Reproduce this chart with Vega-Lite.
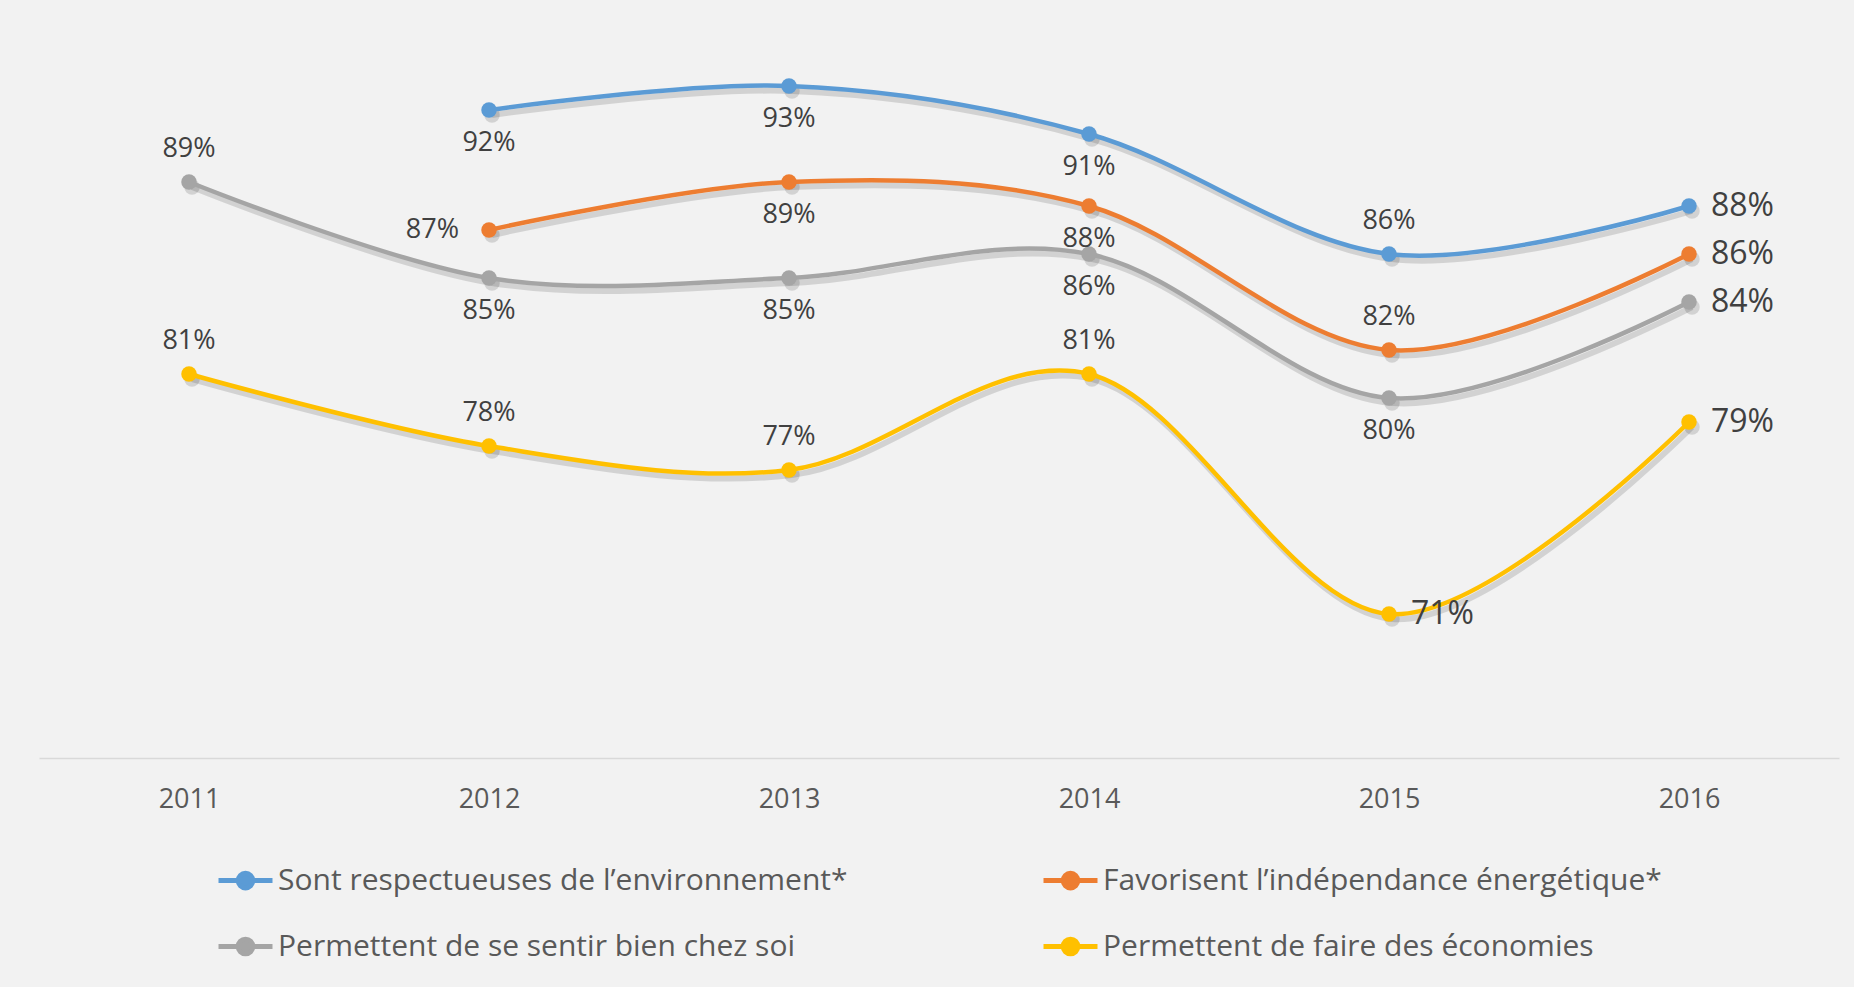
{
  "$schema": "https://vega.github.io/schema/vega-lite/v6.json",
  "autosize": "none",
  "width": 1800,
  "height": 744,
  "padding": {"left": 39, "top": 14, "right": 15, "bottom": 229},
  "background": "#f2f2f2",
  "config": {
    "view": {"stroke": null},
    "font": "Open Sans",
    "axis": {"labelFont": "Open Sans"},
    "legend": {"labelFont": "Open Sans"}
  },
  "data": {
    "values": [
      {"k": "env", "serie": "Sont respectueuses de l’environnement*", "year": "2012", "value": 0.92},
      {"k": "env", "serie": "Sont respectueuses de l’environnement*", "year": "2013", "value": 0.93},
      {"k": "env", "serie": "Sont respectueuses de l’environnement*", "year": "2014", "value": 0.91},
      {"k": "env", "serie": "Sont respectueuses de l’environnement*", "year": "2015", "value": 0.86},
      {"k": "env", "serie": "Sont respectueuses de l’environnement*", "year": "2016", "value": 0.88},
      {"k": "ind", "serie": "Favorisent l’indépendance énergétique*", "year": "2012", "value": 0.87},
      {"k": "ind", "serie": "Favorisent l’indépendance énergétique*", "year": "2013", "value": 0.89},
      {"k": "ind", "serie": "Favorisent l’indépendance énergétique*", "year": "2014", "value": 0.88},
      {"k": "ind", "serie": "Favorisent l’indépendance énergétique*", "year": "2015", "value": 0.82},
      {"k": "ind", "serie": "Favorisent l’indépendance énergétique*", "year": "2016", "value": 0.86},
      {"k": "bien", "serie": "Permettent de se sentir bien chez soi", "year": "2011", "value": 0.89},
      {"k": "bien", "serie": "Permettent de se sentir bien chez soi", "year": "2012", "value": 0.85},
      {"k": "bien", "serie": "Permettent de se sentir bien chez soi", "year": "2013", "value": 0.85},
      {"k": "bien", "serie": "Permettent de se sentir bien chez soi", "year": "2014", "value": 0.86},
      {"k": "bien", "serie": "Permettent de se sentir bien chez soi", "year": "2015", "value": 0.80},
      {"k": "bien", "serie": "Permettent de se sentir bien chez soi", "year": "2016", "value": 0.84},
      {"k": "eco", "serie": "Permettent de faire des économies", "year": "2011", "value": 0.81},
      {"k": "eco", "serie": "Permettent de faire des économies", "year": "2012", "value": 0.78},
      {"k": "eco", "serie": "Permettent de faire des économies", "year": "2013", "value": 0.77},
      {"k": "eco", "serie": "Permettent de faire des économies", "year": "2014", "value": 0.81},
      {"k": "eco", "serie": "Permettent de faire des économies", "year": "2015", "value": 0.71},
      {"k": "eco", "serie": "Permettent de faire des économies", "year": "2016", "value": 0.79}
    ]
  },
  "encoding": {
    "x": {
      "field": "year", "type": "ordinal", "title": null,
      "scale": {"type": "point", "padding": 0.5},
      "axis": {
        "labelAngle": 0, "ticks": false, "domainColor": "#d9d9d9", "domainWidth": 1.5,
        "labelFontSize": 27, "labelColor": "#595959", "labelPadding": 28, "grid": false
      }
    },
    "y": {
      "field": "value", "type": "quantitative", "title": null,
      "scale": {"domain": [0.65, 0.96], "nice": false, "zero": false},
      "axis": null
    }
  },
  "layer": [
    {
      "mark": {"type": "line", "interpolate": "cardinal", "strokeWidth": 6, "color": "#000000", "opacity": 0.13, "xOffset": 3, "yOffset": 5},
      "encoding": {"detail": {"field": "serie"}}
    },
    {
      "mark": {"type": "point", "filled": true, "size": 240, "color": "#000000", "opacity": 0.13, "xOffset": 3, "yOffset": 5},
      "encoding": {"detail": {"field": "serie"}}
    },
    {
      "mark": {"type": "line", "interpolate": "cardinal", "strokeWidth": 4.5},
      "encoding": {
        "color": {
          "field": "serie", "type": "nominal",
          "scale": {
            "domain": ["Sont respectueuses de l’environnement*", "Favorisent l’indépendance énergétique*", "Permettent de se sentir bien chez soi", "Permettent de faire des économies"],
            "range": ["#5b9bd5", "#ed7d31", "#a5a5a5", "#ffc000"]
          },
          "legend": {
            "title": null, "orient": "none", "legendX": 177, "legendY": 837,
            "direction": "horizontal", "columns": 2, "columnPadding": 185, "rowPadding": 19,
            "padding": 0, "labelFontSize": 30, "labelColor": "#595959", "labelOffset": 3, "labelLimit": 800,
            "symbolType": "M-1,0L1,0M0.27,0A0.27,0.27,0,1,1,-0.27,0A0.27,0.27,0,1,1,0.27,0Z",
            "symbolSize": 2916, "symbolStrokeWidth": 5,
            "encode": {
              "symbols": {
                "update": {
                  "fill": {"scale": "color", "field": "value"},
                  "stroke": {"scale": "color", "field": "value"},
                  "strokeWidth": {"value": 5},
                  "opacity": {"value": 1}
                }
              }
            }
          }
        }
      }
    },
    {
      "mark": {"type": "point", "filled": true, "size": 240, "opacity": 1},
      "encoding": {
        "color": {"field": "serie", "type": "nominal", "legend": null}
      }
    },
    {
      "transform": [{"filter": "(datum.year == '2015' && (datum.k == 'env' || datum.k == 'ind')) || (datum.k == 'bien' && datum.year == '2011') || (datum.k == 'eco' && datum.year != '2015' && datum.year != '2016')"}],
      "mark": {"type": "text", "dy": -33, "fontSize": 27, "color": "#404040", "baseline": "middle", "align": "center"},
      "encoding": {"text": {"field": "value", "format": ".0%"}}
    },
    {
      "transform": [{"filter": "(datum.k == 'env' && (datum.year == '2012' || datum.year == '2013' || datum.year == '2014')) || (datum.k == 'ind' && (datum.year == '2013' || datum.year == '2014')) || (datum.k == 'bien' && datum.year != '2011' && datum.year != '2016')"}],
      "mark": {"type": "text", "dy": 33, "fontSize": 27, "color": "#404040", "baseline": "middle", "align": "center"},
      "encoding": {"text": {"field": "value", "format": ".0%"}}
    },
    {
      "transform": [{"filter": "datum.k == 'ind' && datum.year == '2012'"}],
      "mark": {"type": "text", "dx": -30, "fontSize": 27, "color": "#404040", "baseline": "middle", "align": "right"},
      "encoding": {"text": {"field": "value", "format": ".0%"}}
    },
    {
      "transform": [{"filter": "datum.year == '2016' || (datum.k == 'eco' && datum.year == '2015')"}],
      "mark": {"type": "text", "dx": 22, "fontSize": 32, "color": "#404040", "baseline": "middle", "align": "left"},
      "encoding": {"text": {"field": "value", "format": ".0%"}}
    }
  ]
}
